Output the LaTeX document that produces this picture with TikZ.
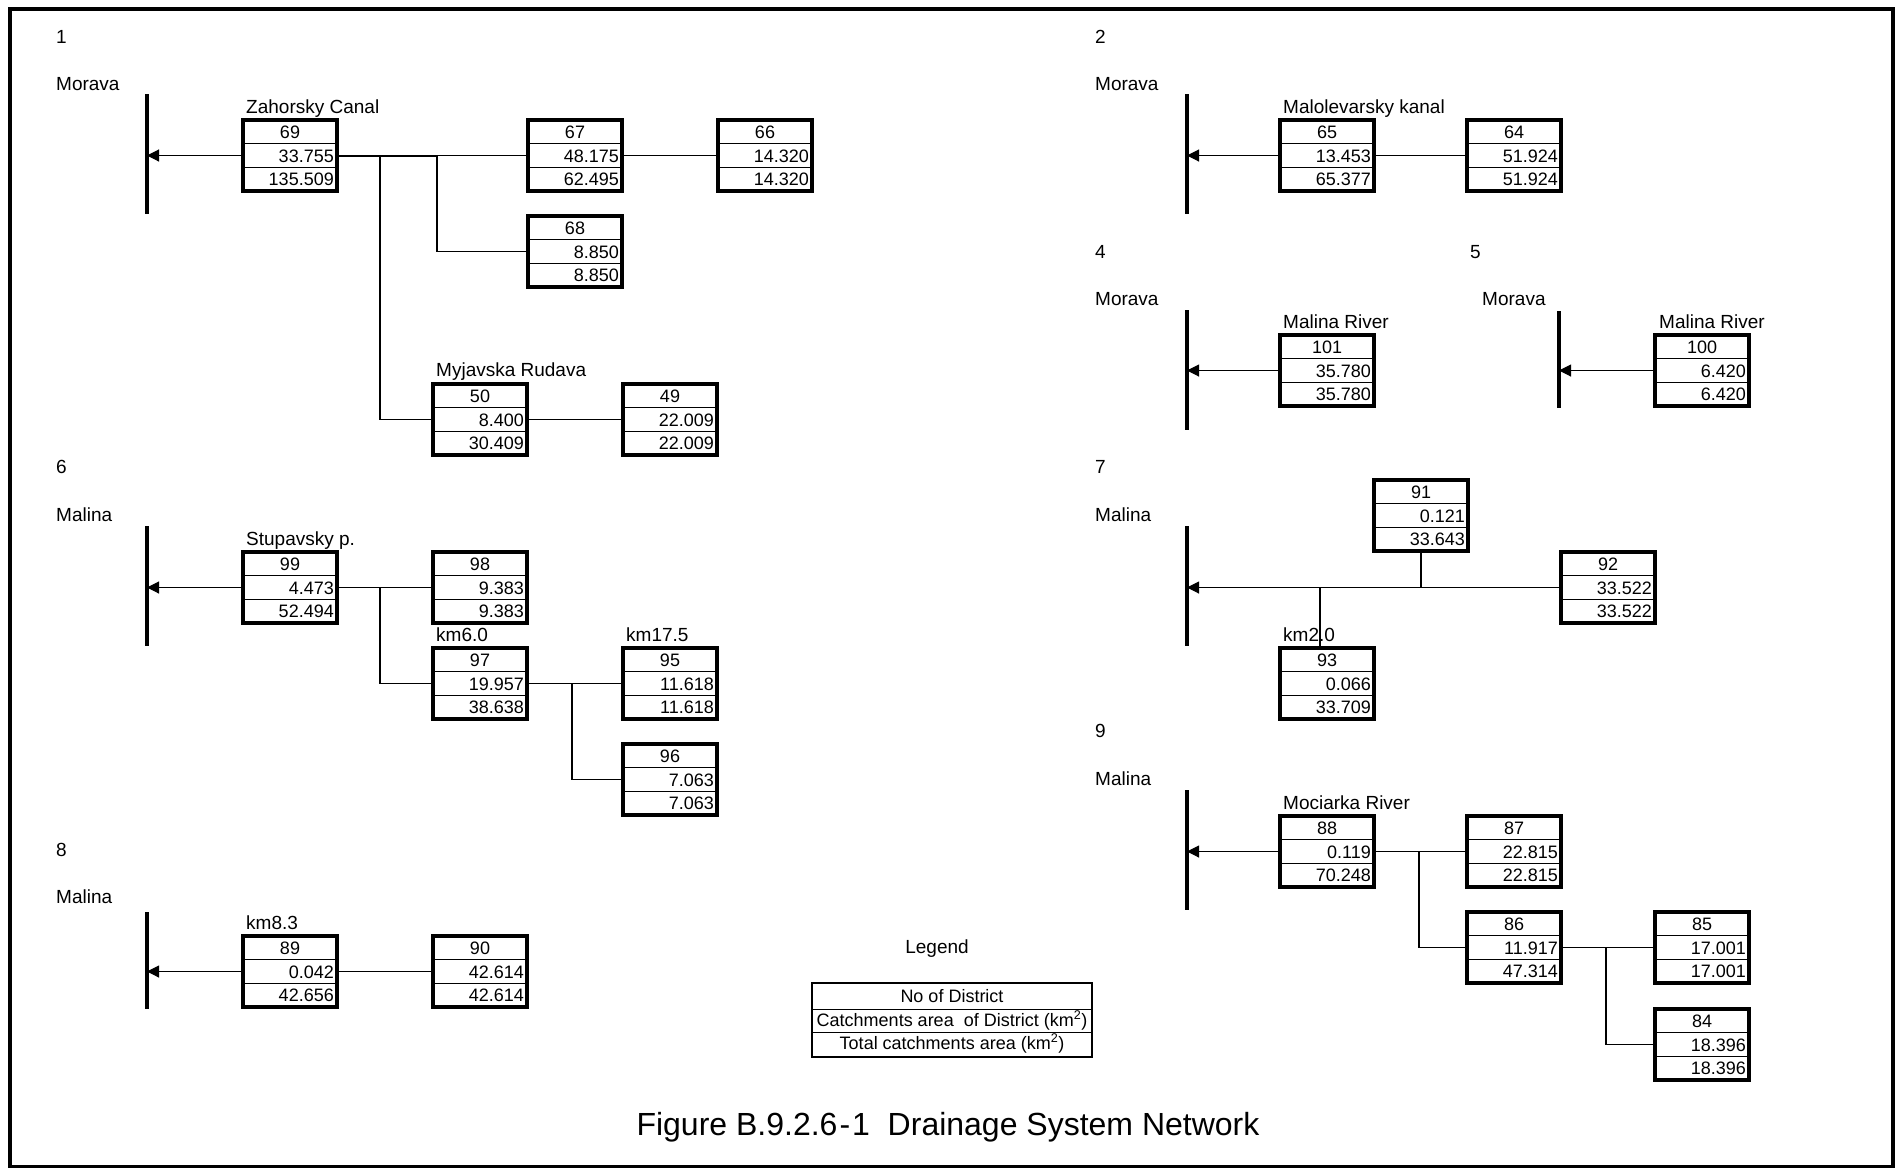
\documentclass[tikz,border=0pt]{standalone}
\usepackage{fontspec}
\setmainfont{Liberation Sans}
\usetikzlibrary{arrows.meta,calc}
\tikzset{
  dbox/.style={draw, line width=3.6pt, minimum width=94pt, minimum height=71pt, inner sep=0pt, outer sep=0pt, anchor=north west},
  rowline/.style={line width=1pt},
  cellnum/.style={inner sep=0pt, font=\fontsize{18}{20}\selectfont, anchor=base},
  cellval/.style={inner sep=0pt, font=\fontsize{18}{20}\selectfont, anchor=base east},
  lbl/.style={inner sep=0pt, font=\fontsize{19}{21}\selectfont, anchor=base west},
  legtxt/.style={inner sep=0pt, font=\fontsize{18}{20}\selectfont, anchor=base},
  river/.style={line width=3.6pt},
  conn/.style={line width=1.1pt},
  outflow/.style={line width=1.1pt, -{Triangle[length=12pt,width=12pt]}},
}
\newcommand\dbox[6]{%
  \node[dbox] (#1) at (#2,#3) {};
  \draw[rowline] ($(#1.north west)!1/3!(#1.south west)$) -- ($(#1.north east)!1/3!(#1.south east)$);
  \draw[rowline] ($(#1.north west)!2/3!(#1.south west)$) -- ($(#1.north east)!2/3!(#1.south east)$);
  \node[cellnum] at ($(#1.north)+(0,18.3)$) {#4};
  \node[cellval] at ($(#1.north east)+(-3,42)$) {#5};
  \node[cellval] at ($(#1.north east)+(-3,65.6)$) {#6};
}
\begin{document}
\begin{tikzpicture}[x=1pt,y=-1pt]
\useasboundingbox (0,0) rectangle (1895,1168);
\draw[line width=3.5pt] (10,9) rectangle (1893,1166.5);

% ---------- Section 1 ----------
\node[lbl] (n1) at (56,43) {1};
\node[lbl] (m1) at (56,90) {Morava};
\coordinate (r1a) at (147,94); \coordinate (r1b) at (147,214);
\node[lbl] (l1) at (246,113) {Zahorsky Canal};
\dbox{b69}{243}{120}{69}{33.755}{135.509}
\dbox{b67}{528}{120}{67}{48.175}{62.495}
\dbox{b66}{718}{120}{66}{14.320}{14.320}
\dbox{b68}{528}{216}{68}{8.850}{8.850}
\node[lbl] (l1b) at (436,376) {Myjavska Rudava};
\dbox{b50}{433}{384}{50}{8.400}{30.409}
\dbox{b49}{623}{384}{49}{22.009}{22.009}
\coordinate (j1a) at (380,0); \coordinate (j1b) at (437,0);
\draw[river] (r1a) -- (r1b);
\draw[outflow] (b69.west) -- (b69.west -| r1a);
\draw[conn] (b69.east) -- (b67.west);
\draw[line width=2pt] (b69.east) -- (b69.east -| j1b);
\draw[conn] (b67.east) -- (b66.west);
\draw[conn] (b69.east -| j1a) |- (b50.west);
\draw[conn] (b69.east -| j1b) |- (b68.west);
\draw[conn] (b50.east) -- (b49.west);

% ---------- Section 2 ----------
\node[lbl] (n2) at (1095,43) {2};
\node[lbl] (m2) at (1095,90) {Morava};
\coordinate (r2a) at (1187,94); \coordinate (r2b) at (1187,214);
\node[lbl] (l2) at (1283,113) {Malolevarsky kanal};
\dbox{b65}{1280}{120}{65}{13.453}{65.377}
\dbox{b64}{1467}{120}{64}{51.924}{51.924}
\draw[river] (r2a) -- (r2b);
\draw[outflow] (b65.west) -- (b65.west -| r2a);
\draw[conn] (b65.east) -- (b64.west);

% ---------- Section 4 ----------
\node[lbl] (n4) at (1095,258) {4};
\node[lbl] (m4) at (1095,305) {Morava};
\coordinate (r4a) at (1187,310); \coordinate (r4b) at (1187,430);
\node[lbl] (l4) at (1283,328) {Malina River};
\dbox{b101}{1280}{335}{101}{35.780}{35.780}
\draw[river] (r4a) -- (r4b);
\draw[outflow] (b101.west) -- (b101.west -| r4a);

% ---------- Section 5 ----------
\node[lbl] (n5) at (1470,258) {5};
\node[lbl] (m5) at (1482,305) {Morava};
\coordinate (r5a) at (1559,311); \coordinate (r5b) at (1559,408);
\node[lbl] (l5) at (1659,328) {Malina River};
\dbox{b100}{1655}{335}{100}{6.420}{6.420}
\draw[river] (r5a) -- (r5b);
\draw[outflow] (b100.west) -- (b100.west -| r5a);

% ---------- Section 6 ----------
\node[lbl] (n6) at (56,473) {6};
\node[lbl] (m6) at (56,521) {Malina};
\coordinate (r6a) at (147,526); \coordinate (r6b) at (147,646);
\node[lbl] (l6) at (246,545) {Stupavsky p.};
\dbox{b99}{243}{552}{99}{4.473}{52.494}
\dbox{b98}{433}{552}{98}{9.383}{9.383}
\node[lbl] (k60) at (436,641) {km6.0};
\dbox{b97}{433}{648}{97}{19.957}{38.638}
\node[lbl] (k175) at (626,641) {km17.5};
\dbox{b95}{623}{648}{95}{11.618}{11.618}
\dbox{b96}{623}{744}{96}{7.063}{7.063}
\coordinate (j6a) at (380,0); \coordinate (j6b) at (572,0);
\draw[river] (r6a) -- (r6b);
\draw[outflow] (b99.west) -- (b99.west -| r6a);
\draw[conn] (b99.east) -- (b98.west);
\draw[conn] (b99.east -| j6a) |- (b97.west);
\draw[conn] (b97.east) -- (b95.west);
\draw[conn] (b97.east -| j6b) |- (b96.west);

% ---------- Section 7 ----------
\node[lbl] (n7) at (1095,473) {7};
\node[lbl] (m7) at (1095,521) {Malina};
\coordinate (r7a) at (1187,526); \coordinate (r7b) at (1187,646);
\dbox{b91}{1374}{480}{91}{0.121}{33.643}
\dbox{b92}{1561}{552}{92}{33.522}{33.522}
\dbox{b93}{1280}{648}{93}{0.066}{33.709}
\coordinate (j7) at (1320,0);
\draw[river] (r7a) -- (r7b);
\draw[outflow] (b92.west) -- (b92.west -| r7a);
\draw[conn] (b91.south) -- (b91.south |- b92.west);
\draw[conn] (b92.west -| j7) -- (b93.north -| j7);
\node[lbl] (k20) at (1283,641) {km2.0};

% ---------- Section 8 ----------
\node[lbl] (n8) at (56,856) {8};
\node[lbl] (m8) at (56,903) {Malina};
\coordinate (r8a) at (147,912); \coordinate (r8b) at (147,1009);
\node[lbl] (k83) at (246,929) {km8.3};
\dbox{b89}{243}{936}{89}{0.042}{42.656}
\dbox{b90}{433}{936}{90}{42.614}{42.614}
\draw[river] (r8a) -- (r8b);
\draw[outflow] (b89.west) -- (b89.west -| r8a);
\draw[conn] (b89.east) -- (b90.west);

% ---------- Section 9 ----------
\node[lbl] (n9) at (1095,737) {9};
\node[lbl] (m9) at (1095,785) {Malina};
\coordinate (r9a) at (1187,790); \coordinate (r9b) at (1187,910);
\node[lbl] (l9) at (1283,809) {Mociarka River};
\dbox{b88}{1280}{816}{88}{0.119}{70.248}
\dbox{b87}{1467}{816}{87}{22.815}{22.815}
\dbox{b86}{1467}{912}{86}{11.917}{47.314}
\dbox{b85}{1655}{912}{85}{17.001}{17.001}
\dbox{b84}{1655}{1009}{84}{18.396}{18.396}
\coordinate (j9a) at (1419,0); \coordinate (j9b) at (1606,0);
\draw[river] (r9a) -- (r9b);
\draw[outflow] (b88.west) -- (b88.west -| r9a);
\draw[conn] (b88.east) -- (b87.west);
\draw[conn] (b88.east -| j9a) |- (b86.west);
\draw[conn] (b86.east) -- (b85.west);
\draw[conn] (b86.east -| j9b) |- (b84.west);

% ---------- Legend ----------
\node[inner sep=0pt, font=\fontsize{19}{21}\selectfont, anchor=base] (legt) at (937,953) {Legend};
\node[draw, line width=1.8pt, minimum width=280pt, minimum height=74pt, inner sep=0pt, outer sep=0pt, anchor=north west] (leg) at (812,983) {};
\draw[line width=1pt] (leg.west |- 0,1009) -- (leg.east |- 0,1009);
\draw[line width=1pt] (leg.west |- 0,1032) -- (leg.east |- 0,1032);
\node[legtxt] (lg1) at (952,1002) {No of District};
\node[legtxt] (lg2) at (952,1026) {Catchments area\ \ of District (km\textsuperscript{2})};
\node[legtxt] (lg3) at (952,1049) {Total catchments area (km\textsuperscript{2})};

% ---------- Title ----------
\node[inner sep=0pt, font=\fontsize{32}{36}\selectfont, anchor=base] (title) at (948,1135) {Figure B.9.2.6\kern2pt-\kern2pt1\hspace{0.556em}Drainage System Network};
\end{tikzpicture}
\end{document}
